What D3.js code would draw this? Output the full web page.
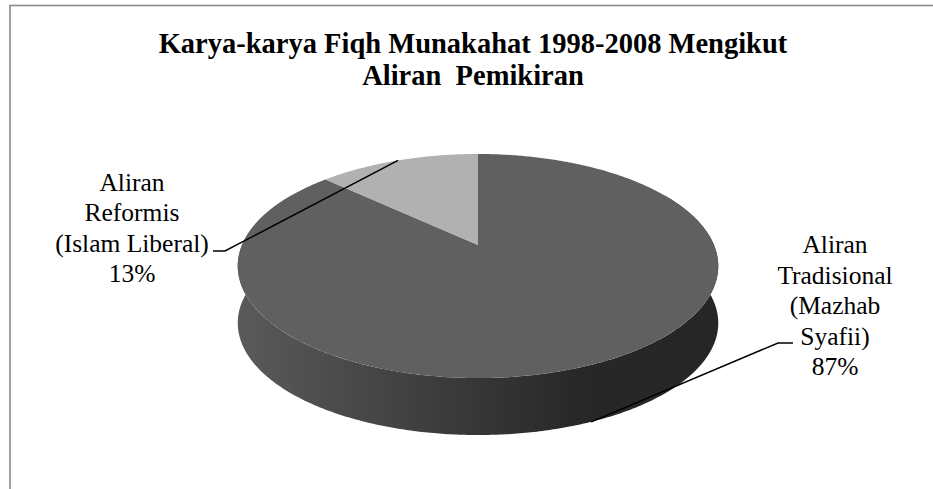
<!DOCTYPE html>
<html>
<head>
<meta charset="utf-8">
<script src="https://cdn.jsdelivr.net/npm/d3@7"></script>
<style>body{margin:0;background:#fff}</style>
</head>
<body>
<div id="chart"></div>
<script>
// data
var categories = ["Aliran Tradisional (Mazhab Syafii)", "Aliran Reformis (Islam Liberal)"];
var values = [87, 13];
var labelLines = [
  ["Aliran", "Tradisional", "(Mazhab", "Syafii)", "87%"],
  ["Aliran", "Reformis", "(Islam Liberal)", "13%"]
];
var titleLines = ["Karya-karya Fiqh Munakahat 1998-2008 Mengikut", "Aliran  Pemikiran"];
var topColors = ["#606060", "#b1b1b1"];

var W = 933, H = 489;
var serif = "'Liberation Serif'";

var svg = d3.select("#chart").append("svg")
  .attr("width", W).attr("height", H);

// chart border (only left + top are inside the window)
svg.append("rect")
  .attr("x", 10).attr("y", 5.5)
  .attr("width", 1000).attr("height", 600)
  .attr("fill", "none")
  .attr("stroke", "#8a8a8a")
  .attr("stroke-width", 1.6);

/* 3d pie: tilted disc with a bit of perspective */
var cx = 478, cy = 245;
var foc = 1118.6, D = 4.74;
var sinA = 0.458, cosA = 0.889;
var depth = 57; // side wall height in px

function proj(phi) { // phi clockwise from 12 o'clock
  var u = Math.sin(phi), v = Math.cos(phi);
  var s = v * sinA;
  var d = v * cosA + D;
  return [cx + foc * u / d, cy - foc * s / d];
}
function projBottom(phi) {
  var p = proj(phi);
  return [p[0], p[1] + depth];
}

var pie = d3.pie().sort(null).startAngle(0).endAngle(2 * Math.PI);
var arcs = pie(values);

var lineGen = d3.line();

function arcPoints(a0, a1, fn) {
  var n = Math.max(2, Math.ceil(Math.abs(a1 - a0) / 0.01));
  return d3.range(n + 1).map(function(i) { return fn(a0 + (a1 - a0) * i / n); });
}

// side gradient
var grad = svg.append("defs").append("linearGradient").attr("id", "side")
  .attr("x1", 0).attr("x2", 1).attr("y1", 0).attr("y2", 0);
[[0, "#5a5a5a"], [0.45, "#3a3a3a"], [0.72, "#272727"], [1, "#262626"]].forEach(function(s) {
  grad.append("stop").attr("offset", s[0]).attr("stop-color", s[1]);
});

// front side wall
var sA = Math.PI / 3, sB = Math.PI * 5 / 3;
var sidePts = arcPoints(sA, sB, proj).concat(arcPoints(sB, sA, projBottom));
svg.append("path")
  .attr("d", lineGen(sidePts) + "Z")
  .attr("fill", "url(#side)");

// top faces
svg.selectAll(".slice")
  .data(arcs)
  .enter().append("path")
  .attr("class", "slice")
  .attr("d", function(d) {
    return lineGen([[cx, cy]].concat(arcPoints(d.startAngle, d.endAngle, proj))) + "Z";
  })
  .attr("fill", function(d, i) { return topColors[i]; });

// title
titleLines.forEach(function(l, i) {
  svg.append("text")
    .attr("x", 473).attr("y", 53 + i * 32)
    .attr("text-anchor", "middle")
    .attr("font-size", 28.5)
    .attr("font-weight", "bold")
    .attr("font-family", "Liberation Serif")
    .style("font-family", serif)
    .style("white-space", "pre")
    .text(l);
});

// labels + leader lines
var labelPos = [
  { x: 835, y: 253, lh: 30.5, lead: [[793, 343], [778, 343]], bottom: true },
  { x: 132, y: 191, lh: 30.3, lead: [[213, 251], [225, 251]], bottom: false }
];

arcs.forEach(function(d, i) {
  var mid = (d.startAngle + d.endAngle) / 2;
  var anchor = labelPos[i].bottom ? projBottom(mid) : proj(mid);
  svg.append("path")
    .attr("d", lineGen(labelPos[i].lead.concat([anchor])))
    .attr("fill", "none")
    .attr("stroke", "#000")
    .attr("stroke-width", 1.5);

  labelLines[i].forEach(function(l, j) {
    svg.append("text")
      .attr("x", labelPos[i].x).attr("y", labelPos[i].y + j * labelPos[i].lh)
      .attr("text-anchor", "middle")
      .attr("font-size", 25.5)
      .attr("font-family", "Liberation Serif")
      .style("font-family", serif)
      .text(l);
  });
});
</script>
</body>
</html>
